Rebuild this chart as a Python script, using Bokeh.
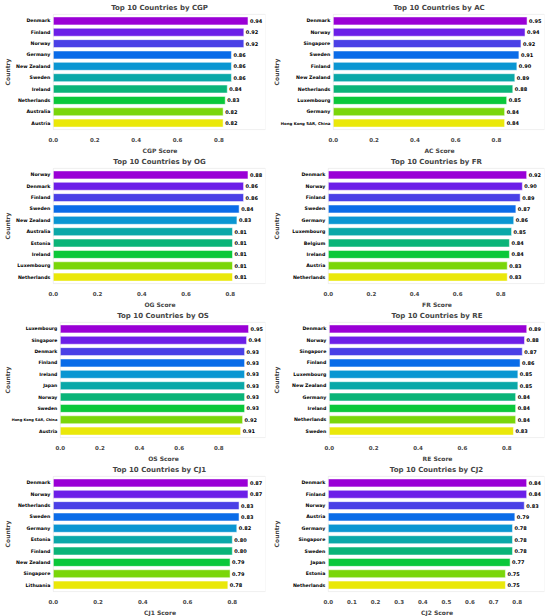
from bokeh.plotting import figure
from bokeh.layouts import column, row
from bokeh.models import (FactorRange, Range1d, FixedTicker, ColumnDataSource,
                          NumeralTickFormatter, BoxAnnotation, Title)
from bokeh.core.properties import value, field
from bokeh.embed import file_html
from bokeh.resources import INLINE

# ---------------- data ----------------
cgp_countries = ["Denmark", "Finland", "Norway", "Germany", "New Zealand", "Sweden",
                 "Ireland", "Netherlands", "Australia", "Austria"]
cgp_scores = [0.94, 0.92, 0.92, 0.86, 0.86, 0.86, 0.84, 0.83, 0.82, 0.82]

ac_countries = ["Denmark", "Norway", "Singapore", "Sweden", "Finland", "New Zealand",
                "Netherlands", "Luxembourg", "Germany", "Hong Kong SAR, China"]
ac_scores = [0.95, 0.94, 0.92, 0.91, 0.90, 0.89, 0.88, 0.85, 0.84, 0.84]

og_countries = ["Norway", "Denmark", "Finland", "Sweden", "New Zealand", "Australia",
                "Estonia", "Ireland", "Luxembourg", "Netherlands"]
og_scores = [0.88, 0.86, 0.86, 0.84, 0.83, 0.81, 0.81, 0.81, 0.81, 0.81]

fr_countries = ["Denmark", "Norway", "Finland", "Sweden", "Germany", "Luxembourg",
                "Belgium", "Ireland", "Austria", "Netherlands"]
fr_scores = [0.92, 0.90, 0.89, 0.87, 0.86, 0.85, 0.84, 0.84, 0.83, 0.83]

os_countries = ["Luxembourg", "Singapore", "Denmark", "Finland", "Ireland", "Japan",
                "Norway", "Sweden", "Hong Kong SAR, China", "Austria"]
os_scores = [0.95, 0.94, 0.93, 0.93, 0.93, 0.93, 0.93, 0.93, 0.92, 0.91]

re_countries = ["Denmark", "Norway", "Singapore", "Finland", "Luxembourg", "New Zealand",
                "Germany", "Ireland", "Netherlands", "Sweden"]
re_scores = [0.89, 0.88, 0.87, 0.86, 0.85, 0.85, 0.84, 0.84, 0.84, 0.83]

cj1_countries = ["Denmark", "Norway", "Netherlands", "Sweden", "Germany", "Estonia",
                 "Finland", "New Zealand", "Singapore", "Lithuania"]
cj1_scores = [0.87, 0.87, 0.83, 0.83, 0.82, 0.80, 0.80, 0.79, 0.79, 0.78]

cj2_countries = ["Denmark", "Finland", "Norway", "Austria", "Germany", "Singapore",
                 "Sweden", "Japan", "Estonia", "Netherlands"]
cj2_scores = [0.84, 0.84, 0.83, 0.79, 0.78, 0.78, 0.78, 0.77, 0.75, 0.75]

ticks_02 = [0.0, 0.2, 0.4, 0.6, 0.8]
ticks_01 = [0.0, 0.1, 0.2, 0.3, 0.4, 0.5, 0.6, 0.7, 0.8]

rank_colors = ["#9a00d6", "#6c1ee8", "#4a40e6", "#0a6ce8", "#0a96d2",
               "#0aa8a8", "#0ab478", "#0ac83a", "#7ad60a", "#eae80a"]

FONT = "DejaVu Sans"
LONG_NAME = "Hong Kong SAR, China"

# approximate DejaVu Sans Bold advance widths (em) used to centre titles
EM = {" ": .348, "0": .696, "1": .696, "2": .696, "T": .683, "o": .687, "p": .716,
      "C": .734, "u": .712, "n": .712, "t": .478, "r": .493, "i": .343, "e": .678,
      "s": .595, "b": .716, "y": .652, "G": .821, "P": .733, "A": .774, "O": .850,
      "F": .683, "R": .770, "E": .683, "S": .720, "J": .372, "c": .593}


def text_w(s, size):
    return sum(EM.get(ch, .65) for ch in s) * size


F_EST = 9      # width taken by the y axis ("Country" label)
H = 154


def make_panel(metric, countries, scores, ticks, width, vis_left, br,
               name_size="4.7px", long_size="3.9px"):
    factors = list(reversed(countries))
    xmax = max(scores) * 1.09
    vis_w = width - vis_left - br
    ppu = vis_w / xmax
    lpad = (vis_left - F_EST) / ppu
    p = figure(width=width, height=H,
               y_range=FactorRange(factors=factors, range_padding=0.24,
                                   range_padding_units="absolute"),
               x_range=Range1d(-lpad, xmax),
               output_backend="svg", toolbar_location=None,
               min_border_left=0, min_border_right=br,
               min_border_top=0, min_border_bottom=0)
    title = f"Top 10 Countries by {metric}"
    off_t = (vis_left - F_EST) + vis_w / 2 - text_w(title, 7) / 2
    p.add_layout(Title(text=title, align="left", offset=off_t, text_font=FONT,
                       text_font_size="7px", text_font_style="bold",
                       standoff=2), "above")

    src = ColumnDataSource(dict(
        country=countries, score=scores, color=rank_colors,
        label=[f"{s:.2f}" for s in scores],
        zero=[0.0] * len(countries),
        fsize=[long_size if c == LONG_NAME else name_size for c in countries]))
    p.hbar(y="country", left=0, right="score", height=0.7, fill_color="color",
           line_color="white", line_width=0.5, source=src)
    p.text(x="score", y="country", text="label", x_offset=2, text_align="left",
           text_baseline="middle", text_font_size="5px", text_font_style="bold",
           text_font=value(FONT), text_color="black", source=src)
    # country names beside the bars (tick labels)
    p.text(x="zero", y="country", text="country", x_offset=-3, text_align="right",
           text_baseline="middle", text_font_size=field("fsize"),
           text_font_style="bold", text_font=value(FONT), text_color="black",
           source=src)

    # visible frame around the value area
    p.outline_line_color = None
    p.add_layout(BoxAnnotation(left=0, right=xmax, bottom=-0.07, top=10.07,
                               fill_alpha=0, line_color="#cccccc", line_width=1))
    p.xgrid.grid_line_color = None
    p.ygrid.grid_line_color = None

    xa = p.xaxis[0]
    xa.ticker = FixedTicker(ticks=ticks)
    xa.formatter = NumeralTickFormatter(format="0.0")
    ya = p.yaxis[0]
    ya.axis_label = "Country"
    for ax in (xa, ya):
        ax.axis_line_color = None
        ax.major_tick_line_color = None
        ax.minor_tick_line_color = None
        ax.major_tick_in = 0
        ax.major_tick_out = 0
        ax.minor_tick_in = 0
        ax.minor_tick_out = 0
        ax.axis_label_text_font = FONT
        ax.axis_label_text_font_size = "6px"
        ax.axis_label_text_font_style = "bold"
        ax.major_label_text_font = FONT
        ax.major_label_text_font_style = "bold"
    xa.major_label_text_font_size = "5.5px"
    xa.major_label_standoff = 5
    ya.major_label_text_font_size = "0px"
    ya.major_label_text_alpha = 0
    ya.major_label_standoff = 0
    ya.axis_label_standoff = 0

    xlab = f"{metric} Score"
    off_x = (vis_left - F_EST) + vis_w / 2 - text_w(xlab, 6) / 2
    p.add_layout(Title(text=xlab, align="left", offset=off_x, text_font=FONT,
                       text_font_size="6px", text_font_style="bold",
                       standoff=1), "below")
    return p


LW, RW = 269, 281
p1 = make_panel("CGP", cgp_countries, cgp_scores, ticks_02, LW, 52, 4)
p2 = make_panel("AC", ac_countries, ac_scores, ticks_02, RW, 63, 6)
p3 = make_panel("OG", og_countries, og_scores, ticks_02, LW, 52, 4)
p4 = make_panel("FR", fr_countries, fr_scores, ticks_02, RW, 58, 6)
p5 = make_panel("OS", os_countries, os_scores, ticks_02, LW, 59, 4,
                name_size="4.5px", long_size="3.6px")
p6 = make_panel("RE", re_countries, re_scores, ticks_02, RW, 59, 6)
p7 = make_panel("CJ1", cj1_countries, cj1_scores, ticks_02, LW, 52, 4)
p8 = make_panel("CJ2", cj2_countries, cj2_scores, ticks_01, RW, 58, 6)

layout = column(row(p1, p2), row(p3, p4), row(p5, p6), row(p7, p8))

open("out.html", "w").write(file_html(layout, INLINE))
